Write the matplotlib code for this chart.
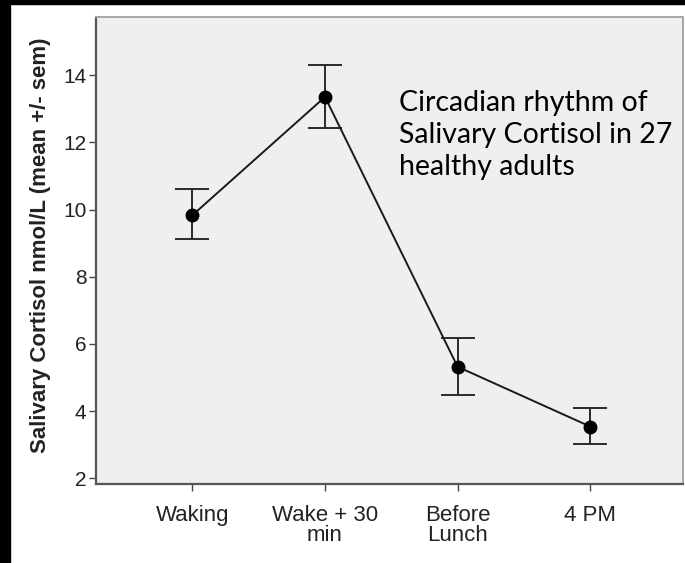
import matplotlib.pyplot as plt
from matplotlib.patches import Rectangle

# Salivary cortisol over the day (mean +/- sem)
times = ["Waking", "Wake + 30\nmin", "Before\nLunch", "4 PM"]
means = [9.83, 13.35, 5.32, 3.54]
upper = [10.60, 14.30, 6.17, 4.08]
lower = [9.12, 12.44, 4.48, 3.01]
y_ticks = [2, 4, 6, 8, 10, 12, 14]

err_lo = [m - l for m, l in zip(means, lower)]
err_hi = [u - m for m, u in zip(means, upper)]
xs = list(range(len(times)))

fig = plt.figure(figsize=(6.85, 5.63), dpi=100)
fig.patch.set_facecolor("white")

# black frame strips along the top and left edge
fig.patches.append(Rectangle((0, 0), 10 / 685, 1, transform=fig.transFigure,
                             color="black", zorder=0))
fig.patches.append(Rectangle((0, 1 - 4 / 563), 1, 4 / 563, transform=fig.transFigure,
                             color="black", zorder=0))

ax = fig.add_axes([96 / 685, 1 - 484 / 563, (683 - 96) / 685, (484 - 17) / 563])
ax.set_facecolor("#efefef")

ax.errorbar(xs, means, yerr=[err_lo, err_hi], fmt="o-", color="#1a1a1a",
            ecolor="#2a2a2a", elinewidth=1.4, capsize=12, capthick=1.4,
            markersize=9, linewidth=1.4, markerfacecolor="black",
            markeredgecolor="black")

ax.set_xlim(-0.727, 3.7)
ax.set_ylim(1.83, 15.73)
ax.set_xticks(xs)
ax.set_xticklabels(times, family="Liberation Sans", fontsize=16, color="#222222",
                   linespacing=0.95)
ax.set_yticks(y_ticks)
ax.set_yticklabels([str(v) for v in y_ticks], family="Liberation Sans",
                   fontsize=15, color="#222222")
ax.tick_params(axis="both", length=5, width=1, color="#444444", pad=2)
ax.tick_params(axis="x", pad=10)

for side in ["left", "bottom"]:
    ax.spines[side].set_color("#555555")
    ax.spines[side].set_linewidth(1.6)
for side in ["top", "right"]:
    ax.spines[side].set_color("#a8a8a8")
    ax.spines[side].set_linewidth(1.4)

fig.text(41 / 685, 1 - 245 / 563, "Salivary Cortisol nmol/L (mean +/- sem)",
         rotation=90, ha="center", va="center", family="Liberation Sans",
         fontweight="bold", fontsize=16, color="#222222")

ax.text(1.56, 12.22, "Circadian rhythm of\nSalivary Cortisol in 27\nhealthy adults",
        family="Lato", fontsize=20.5, color="black", ha="left", va="center",
        linespacing=1.28)

fig.savefig("out.png", dpi=100)
